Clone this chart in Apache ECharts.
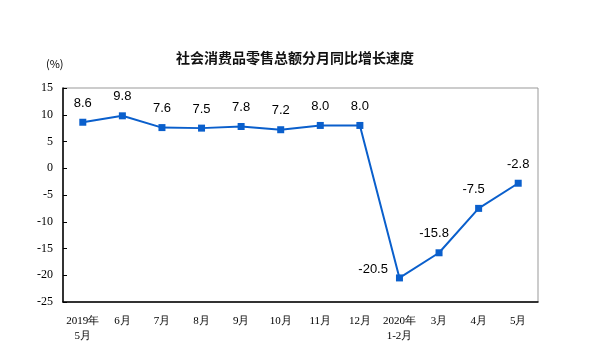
<!DOCTYPE html>
<html>
<head>
<meta charset="utf-8">
<script src="https://cdn.jsdelivr.net/npm/echarts@6/dist/echarts.min.js"></script>
<style>
  html, body { margin: 0; padding: 0; background: #fff; }
  #chart { width: 600px; height: 352px; }
</style>
</head>
<body>
<div id="chart"></div>
<script>
var months = ['2019年\n5月', '6月', '7月', '8月', '9月', '10月', '11月', '12月', '2020年\n1-2月', '3月', '4月', '5月'];
var growth = [8.6, 9.8, 7.6, 7.5, 7.8, 7.2, 8.0, 8.0, -20.5, -15.8, -7.5, -2.8];
// where each value label sits
var labelPos = ['top', 'top', 'top', 'top', 'top', 'top', 'top', 'top', 'left', 'topLeft', 'topLeft', 'top'];

var points = growth.map(function (v, i) {
  var p = labelPos[i];
  if (p === 'topLeft') {
    return { value: v, label: { position: 'top', offset: [-5, 0] } };
  }
  if (p === 'left') {
    return { value: v, label: { position: 'left', distance: 8, offset: [0, -9] } };
  }
  return { value: v };
});

var chart = echarts.init(document.getElementById('chart'));
chart.setOption({
  backgroundColor: '#fff',
  animation: false,
  title: {
    text: '社会消费品零售总额分月同比增长速度',
    left: 290,
    textAlign: 'center',
    top: 46,
    textStyle: { fontSize: 14, fontWeight: 'bold', color: '#111', fontFamily: 'Noto Sans CJK SC' }
  },
  graphic: [{
    type: 'text',
    left: 46,
    top: 58,
    style: { text: '(%)', fontSize: 11, fill: '#000', fontFamily: 'Noto Sans CJK SC' }
  }],
  grid: {
    left: 63, right: 62, top: 88, bottom: 50,
    show: true, borderColor: '#999', borderWidth: 1
  },
  xAxis: {
    type: 'category',
    data: months,
    boundaryGap: true,
    axisLine: { onZero: false, lineStyle: { color: '#000', width: 1.5 } },
    axisTick: { inside: true, length: 5, lineStyle: { color: '#000' } },
    axisLabel: {
      color: '#000', fontSize: 11, fontFamily: 'Liberation Serif',
      margin: 12, interval: 0, lineHeight: 15
    }
  },
  yAxis: {
    type: 'value',
    min: -25, max: 15, interval: 5,
    axisLine: { show: true, lineStyle: { color: '#000', width: 1.5 } },
    axisTick: { show: true, inside: true, length: 4, lineStyle: { color: '#000' } },
    splitLine: { show: false },
    axisLabel: { color: '#000', fontSize: 12, fontFamily: 'Liberation Serif', margin: 10 }
  },
  series: [{
    type: 'line',
    data: points,
    symbol: 'rect',
    symbolSize: 7,
    lineStyle: { color: '#0a5fcc', width: 2 },
    itemStyle: { color: '#0a5fcc' },
    label: {
      show: true,
      position: 'top',
      distance: 9,
      color: '#000',
      fontSize: 13,
      fontFamily: 'Liberation Sans',
      formatter: function (p) { return p.value.toFixed(1); }
    }
  }]
});
</script>
</body>
</html>
